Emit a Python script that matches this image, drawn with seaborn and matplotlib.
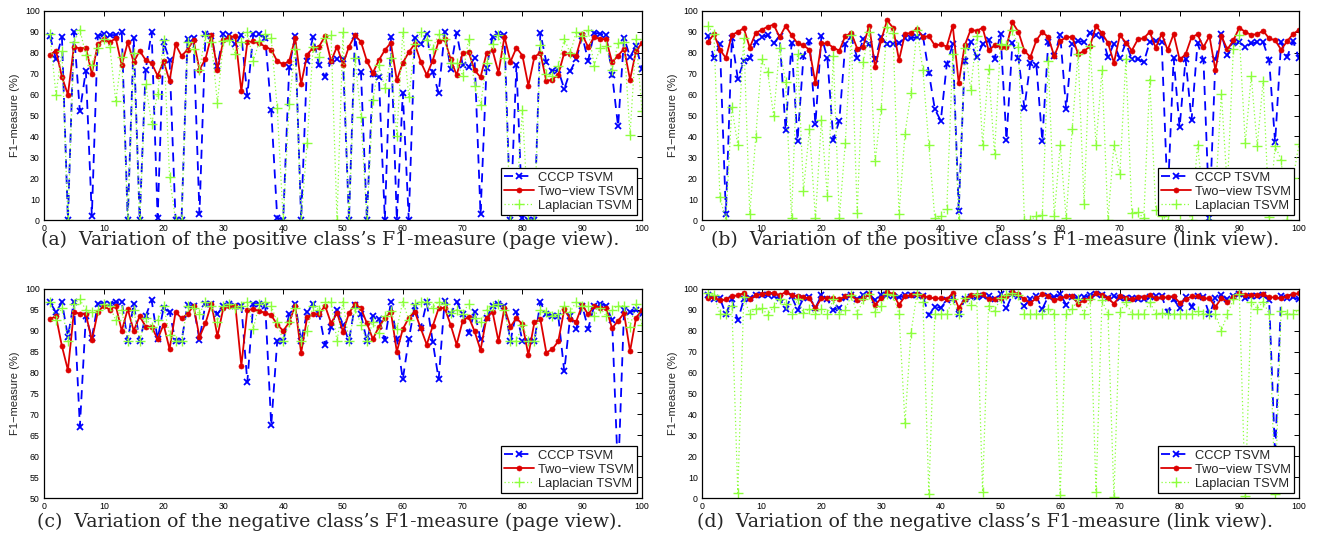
import matplotlib
matplotlib.use("Agg")
import matplotlib.pyplot as plt
import numpy as np
import pandas as pd
import seaborn as sns

# run index 1..100
runs = list(range(1, 101))

# (a) positive class, page view
pa_cccp = [88, 77, 87.5, 0, 90, 52, 71.5, 2, 88, 89,
           88.5, 88.5, 90, 0, 87, 0, 72, 90, 1, 85,
           76.5, 0, 0, 86.5, 87, 3, 89, 88, 73.5, 89,
           88.5, 84, 88.5, 59.5, 89, 89, 87, 52.5, 1, 0,
           73, 88, 0, 76, 87.5, 74, 68.5, 76, 77, 77,
           0, 88, 71, 0, 70, 68.3, 0, 87.7, 0, 60.8,
           0, 87.2, 84, 88.8, 70.7, 60.8, 90, 72.3, 89.6, 74.4,
           73, 77.6, 2.7, 72.8, 87.5, 88.8, 88.3, 0, 74.4, 1,
           0, 0, 89.6, 75.5, 71.2, 71.7, 62.7, 71.2, 76.8, 88,
           76.3, 89.6, 89.1, 88.5, 69.6, 44.8, 87.2, 78, 83.2, 72.3]
pa_two = [79, 81, 68.5, 60, 83, 82, 82.5, 70, 84, 86.5,
          85, 87, 74, 85, 75.5, 81, 76.5, 75, 69, 76,
          66.5, 84, 78.5, 81.5, 86, 72, 77, 88.5, 72, 86,
          87.5, 88, 61.5, 85, 85.5, 84.5, 83, 81.5, 76, 74.5,
          76, 87, 65, 79, 82.5, 83, 88, 76, 83, 74.4,
          83, 88.3, 85.3, 76, 70.4, 76.5, 81.3, 84.8, 66.9, 75.2,
          80.3, 84.3, 75.7, 69.4, 76.3, 85.6, 86.4, 77, 69.3, 79.7,
          80.5, 71.7, 68.3, 79.7, 81.3, 70.4, 87.7, 75.7, 82.4, 78.7,
          64.3, 78, 80, 66.4, 67.2, 69.6, 80, 79.2, 78.7, 88.8,
          82.7, 87.5, 86.7, 86.4, 75.5, 78.7, 81.9, 67.2, 80.8, 84.8]
pa_lap = [88.8, 60, 81, 0, 85, 91, 79, 74, 82.4, 86.5,
          83, 57, 78, 0, 80, 0, 65, 46, 60.5, 86,
          20.5, 0, 0, 85, 82, 72, 88.5, 85, 56, 85.5,
          86, 79.5, 85, 90, 76, 85.5, 89, 87, 53.5, 0,
          55.5, 82, 0, 37, 83, 78, 87, 88.5, 0, 90,
          0, 77.6, 49.3, 0, 57.6, 74, 63.2, 77.3, 40.3, 90,
          58.7, 84, 90, 86.3, 81.9, 89.1, 86.7, 75.2, 75.2, 69.1,
          86.4, 64.3, 54.9, 74.9, 84.3, 88.5, 77.6, 0, 10, 52.5,
          0, 0, 83.5, 70, 69.1, 73.9, 86.7, 79.7, 90, 88,
          90.7, 73.9, 82.4, 83.2, 72, 84.8, 85.1, 40.8, 86.7, 52.3]

# (b) positive class, link view
pb_cccp = [88, 77.5, 84, 3, 87, 67.5, 76, 77.5, 85, 87.5,
           88.5, 84.5, 88, 43, 84.5, 38, 78.4, 85.6, 46, 88,
           77.5, 38.5, 47.5, 84, 87.5, 77.5, 86.5, 84, 77, 87.5,
           84, 84, 84.5, 87, 87, 87.5, 88, 70.5, 53, 47.5,
           74.5, 84, 4.5, 76, 85, 78, 84, 86, 77, 89,
           38.4, 84.8, 77.6, 53.6, 75.2, 74.4, 37.9, 85.1, 78.4, 88.5,
           53.1, 84.3, 85.5, 85.3, 89.6, 88.3, 88, 78, 84.3, 77.3,
           84.8, 77, 77, 75.5, 85.1, 85.5, 85, 10, 77.3, 44.3,
           77, 47.7, 84.5, 76.5, 0.8, 76.8, 88.8, 78.9, 84.5, 85,
           83, 84.5, 85, 85, 76.5, 37.1, 85, 78, 85.5, 77.5]
pb_two = [85, 89, 81.5, 77.5, 88.5, 90, 91.8, 82.5, 89.5, 91,
          92.5, 93.5, 87.5, 92.8, 88.5, 84.5, 83.5, 81.5, 65.5, 84.5,
          84.5, 82.5, 81, 88, 89.5, 82, 83, 93, 73, 86,
          95.5, 92, 76.5, 89, 89.5, 91.5, 87.5, 88, 83.5, 84,
          83, 93, 65.5, 83.5, 91, 90.5, 92, 81.3, 83.5, 83,
          83, 94.5, 90, 81, 77.9, 85.9, 90, 87.5, 78.4, 85.6,
          87.5, 87.5, 79.5, 80.8, 83.2, 92.8, 89.3, 84.8, 75.2, 88.5,
          84.8, 81.1, 86.4, 87, 90, 82.4, 89.1, 81.3, 89, 76.8,
          79.2, 87.5, 88.8, 82.7, 88, 71.7, 88, 81.6, 85.9, 92,
          90, 88.5, 89, 90.5, 86.9, 86, 81.5, 85.5, 89, 91]
pb_lap = [93, 88.8, 10.9, 0, 54, 35.7, 87.2, 2.7, 39.5, 77.1,
          70.7, 49.9, 82.4, 66.1, 0.8, 79.2, 14.1, 43.5, 0.8, 47.7,
          11.5, 78.4, 0.8, 36.8, 88.5, 3.5, 75.7, 90, 28, 53.3,
          92.3, 89.3, 2.7, 41.3, 60.8, 90.9, 71.7, 35.7, 0.8, 1.9,
          5.1, 79.2, 0, 82.4, 62.4, 88, 36, 72.3, 31.7, 84.3,
          83.7, 91, 82.7, 0, 0, 1.9, 2.4, 76.3, 1.9, 35.7,
          0.8, 43.5, 79.5, 7.7, 83.2, 36, 71.7, 0, 36, 22.1,
          77.1, 3.2, 3.7, 0.8, 67.2, 5, 2, 0, 8, 3,
          6, 0, 36, 10, 0, 12, 60.5, 15, 81.6, 88.3,
          36.8, 68.8, 35.5, 66.7, 1.6, 35.5, 28.8, 0, 20, 36.3]

# (c) negative class, page view
pc_cccp = [96.8, 94.5, 96.8, 88.6, 97, 67.1, 93.5, 88.2, 96.5, 96.5,
           96.5, 96.8, 97, 87.5, 96.5, 87.5, 93.5, 97.3, 88, 95.5,
           94.5, 87.5, 87.5, 96.2, 96, 87.8, 96.5, 96.5, 94, 96,
           96.5, 96, 96, 77.7, 96.5, 96.5, 96, 67.4, 87.5, 87.5,
           94, 96.5, 87.5, 94.5, 96.5, 94, 86.6, 90.8, 95, 91.5,
           87.5, 96.2, 93.9, 87.5, 93.5, 92.8, 87.8, 96.8, 88, 78.4,
           88, 96, 90.6, 96.8, 87.4, 78.4, 97.2, 94, 97, 94,
           89.4, 94.5, 88, 93, 96, 96.5, 96, 87.5, 94.5, 87.5,
           87.5, 87.5, 96.8, 94, 93.5, 93.5, 80.3, 93.5, 90.5, 96,
           90.5, 96, 96.5, 96, 92.5, 55, 95, 94.5, 95, 94]
pc_two = [92.8, 93.5, 86.3, 80.6, 94.6, 94, 94, 87.7, 94.5, 96,
          95, 96, 90, 95.2, 90, 93.5, 91, 91, 88, 91.5,
          85.6, 94.5, 93, 94, 96, 88.5, 91.8, 96.5, 88.7, 95.5,
          96, 96, 81.6, 95, 95.2, 94.7, 94.3, 93.7, 91.5, 90,
          92, 96, 84.7, 93.2, 94, 94, 96, 91.8, 94.3, 89.8,
          94.2, 96.4, 95.4, 91.8, 88, 91, 93, 94.6, 85, 90.4,
          93.1, 94.6, 90.6, 86.7, 91.1, 95.4, 95.5, 91.4, 86.7, 92.3,
          93.4, 89.9, 85.4, 93.1, 94.6, 87.5, 95.5, 91, 93, 91.6,
          84.2, 92, 92.8, 84.8, 85.6, 87.5, 95.1, 92.8, 92.2, 96.2,
          93.9, 96, 95.5, 95.4, 90.6, 92.4, 94.2, 85.1, 93.1, 95]
pc_lap = [97, 92.5, 95.5, 87.5, 96.5, 97.5, 95, 94.5, 95, 96.5,
          96, 92.5, 95, 87.5, 95, 87.5, 93, 91, 92.5, 96,
          89, 87.5, 87.5, 96, 95.5, 94, 97, 96, 92, 96,
          96.5, 95.5, 96, 97, 90.5, 96.5, 97, 96, 92, 87.5,
          92, 95.5, 87.5, 90, 96, 95, 96.8, 97, 87.5, 97,
          87.5, 95.5, 91.5, 87.5, 92.2, 89.4, 93.5, 94.8, 90.4, 97,
          92.6, 96.5, 97, 97, 95.5, 97, 96.5, 94.3, 95, 94,
          96.5, 93, 92, 95, 96, 96.5, 95, 87.5, 87.5, 91.5,
          87.5, 87.5, 95, 94.5, 93.5, 94, 96, 94.5, 97, 96,
          96, 93.5, 95.5, 93.5, 95, 96, 96, 91, 96.5, 91.5]

# (d) negative class, link view
pd_cccp = [97, 95, 95.5, 88, 95, 85, 95, 95.5, 97, 97,
           97, 96.5, 95.5, 90.5, 96.5, 90, 95.5, 96, 91, 97,
           95, 90, 91, 96, 97, 95, 97, 97.5, 94.5, 97,
           97, 96.5, 96, 97, 97, 97, 96.5, 87.5, 91.5, 91,
           94.5, 95.5, 88, 95, 96, 96, 96.5, 96.5, 95, 97.5,
           90.8, 97.5, 96.5, 92, 95, 96.5, 90.4, 96.5, 96, 97.5,
           92.5, 96, 95.5, 96, 97, 97.5, 97, 95.5, 96.5, 95.5,
           95.5, 95.5, 95, 95, 96, 96.5, 96.5, 88.9, 95, 91.1,
           96, 91.6, 96.5, 96, 87.9, 95.5, 97, 95, 96.5, 97.5,
           95.5, 96.5, 96.5, 97, 94.5, 20, 96.8, 95.5, 96, 95]
pd_two = [95.5, 96, 94.5, 95, 96.5, 97, 98, 95, 97, 97.5,
          98, 98, 97, 98.5, 97, 96.5, 96, 95.5, 91, 95.5,
          95.5, 95.5, 95, 96.5, 97, 94.5, 95.5, 97.5, 92.5, 95.5,
          98.5, 97.5, 92.5, 96.5, 97, 97.5, 96.5, 96, 95.5, 95.5,
          95, 98, 91, 95, 97, 97, 97.5, 95, 95, 95.5,
          96.5, 98.5, 97.5, 95, 93.5, 95.5, 97.5, 96.5, 94.5, 95.5,
          96.5, 96.5, 93, 94.5, 95.5, 98, 97, 95.5, 93, 96.5,
          95.5, 95, 96, 96, 97, 95.5, 96, 96, 96.5, 93.5,
          95, 96.5, 96.5, 95.5, 95.5, 91.5, 95.5, 94, 96, 98,
          97, 97, 97, 97.5, 96, 96, 95.5, 96.5, 97.5, 98]
pd_lap = [98, 97, 88, 88, 92, 2.5, 96, 88, 90.5, 91,
          87.5, 91.5, 95, 93, 88, 95, 88.5, 90.5, 88, 90.5,
          88, 95, 88, 90, 97, 88, 95, 97.5, 89, 92,
          97.5, 97, 88, 36, 79, 97.5, 94, 2, 88, 88,
          88, 95, 88, 95.5, 92.5, 97.5, 3, 92, 89.5, 95.5,
          97, 98, 97, 88, 88, 88, 88, 90.5, 88, 1.5,
          88, 90.5, 95, 88, 95, 3, 94.5, 88, 0.5, 89,
          94, 88, 88, 88, 94, 88, 88.5, 88, 88, 88,
          88, 88, 89.5, 88, 88, 88, 80, 88, 95, 97.5,
          1, 94, 90.5, 94, 88, 2, 89.5, 88, 88, 90]

captions = [
    "(a)  Variation of the positive class\u2019s F1-measure (page view).",
    "(b)  Variation of the positive class\u2019s F1-measure (link view).",
    "(c)  Variation of the negative class\u2019s F1-measure (page view).",
    "(d)  Variation of the negative class\u2019s F1-measure (link view).",
]
series_names = ["CCCP TSVM", "Two\u2212view TSVM", "Laplacian TSVM"]

panels = [
    (pa_cccp, pa_two, pa_lap),
    (pb_cccp, pb_two, pb_lap),
    (pc_cccp, pc_two, pc_lap),
    (pd_cccp, pd_two, pd_lap),
]

sns.set_theme(style="white")
plt.rcParams["font.family"] = ["Liberation Sans", "DejaVu Sans"]
plt.rcParams["axes.unicode_minus"] = True

BLUE, RED, GREEN = "#0000ff", "#dd0000", "#8cff3c"
styles = [
    dict(color=BLUE, marker="x", markersize=4.2, markeredgewidth=1.3,
         markeredgecolor=BLUE, linestyle=(0, (5, 3.5)), linewidth=1.3),
    dict(color=RED, marker="o", markersize=3.6, markeredgewidth=0.5,
         markeredgecolor=RED, markerfacecolor=RED, linestyle="-", linewidth=1.3),
    dict(color=GREEN, marker="+", markersize=7, markeredgewidth=1.0,
         markeredgecolor=GREEN, linestyle=(0, (1, 2)), linewidth=0.9),
]

fig = plt.figure(figsize=(13.2, 5.5), dpi=100)
W, H = 1320, 550
boxes = [(44, 11, 642, 220), (702, 11, 1299, 220),
         (44, 289, 642, 498), (702, 289, 1299, 498)]
caption_y = [240, 240, 522, 522]
caption_x = [330, 995, 330, 985]

for i, (vals, box) in enumerate(zip(panels, boxes)):
    l, t, r, b = box
    ax = fig.add_axes([l / W, 1 - b / H, (r - l) / W, (b - t) / H])
    # same plotting order as the legend
    for j in range(3):
        sns.lineplot(x=runs, y=vals[j], ax=ax, errorbar=None, sort=False,
                     label=series_names[j], **styles[j])
    ax.set_xlim(0, 100)
    ax.set_xticks(np.arange(0, 101, 10))
    if i == 2:
        ax.set_ylim(50, 100)
        ax.set_yticks(np.arange(50, 101, 5))
    else:
        ax.set_ylim(0, 100)
        ax.set_yticks(np.arange(0, 101, 10))
    ax.set_ylabel("F1\u2212measure (%)", fontsize=8, labelpad=4)
    ax.set_xlabel("")
    ax.tick_params(direction="in", length=3.5, width=0.7, labelsize=6.3,
                   top=True, right=True, pad=3, colors="black")
    for sp in ax.spines.values():
        sp.set_color("black")
        sp.set_linewidth(0.9)
    leg = ax.legend(loc="lower right", fontsize=9.3, frameon=True,
                    fancybox=False, framealpha=1, edgecolor="black",
                    borderpad=0.25, labelspacing=0.15, handlelength=2.3,
                    handletextpad=0.3, borderaxespad=0.4, numpoints=1)
    leg.get_frame().set_linewidth(0.9)
    fig.text(caption_x[i] / W, 1 - caption_y[i] / H, captions[i],
             ha="center", va="center", fontsize=13.6, family="DejaVu Serif")

fig.savefig("out.png", dpi=100)
